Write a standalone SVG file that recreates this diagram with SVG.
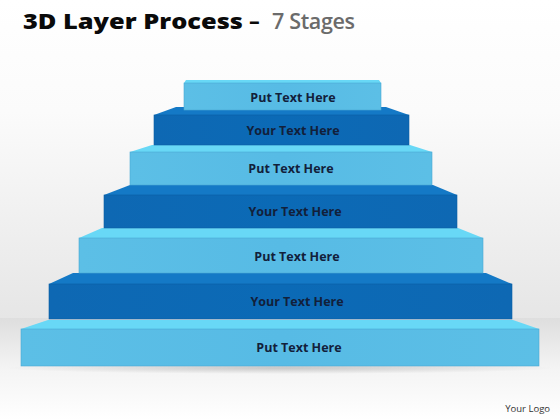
<svg xmlns="http://www.w3.org/2000/svg" width="560" height="420" viewBox="0 0 560 420">
<defs>
<linearGradient id="wall" x1="0" y1="0" x2="0" y2="1">
<stop offset="0" stop-color="#ffffff"/>
<stop offset="0.35" stop-color="#fbfbfb"/>
<stop offset="1" stop-color="#e6e6e6"/>
</linearGradient>
<linearGradient id="floor" x1="0" y1="0" x2="0" y2="1">
<stop offset="0" stop-color="#dedede"/>
<stop offset="0.5" stop-color="#f4f4f4"/>
<stop offset="1" stop-color="#ffffff"/>
</linearGradient>
<linearGradient id="lightFront" x1="0" y1="0" x2="1" y2="0">
<stop offset="0" stop-color="#5cbfe6"/>
<stop offset="0.5" stop-color="#57bbe5"/>
<stop offset="1" stop-color="#5cbfe6"/>
</linearGradient>
<linearGradient id="darkFront" x1="0" y1="0" x2="1" y2="0">
<stop offset="0" stop-color="#0e68b3"/>
<stop offset="0.5" stop-color="#0b6ab6"/>
<stop offset="1" stop-color="#0e68b3"/>
</linearGradient>
<radialGradient id="shadow" cx="0.5" cy="0.5" r="0.5">
<stop offset="0" stop-color="#000" stop-opacity="0.18"/>
<stop offset="1" stop-color="#000" stop-opacity="0"/>
</radialGradient>
</defs>
<style>
.lf{fill:url(#lightFront);stroke:#4aa8d3;stroke-width:0.6}
.lt{fill:#68d8f6}
.df{fill:url(#darkFront);stroke:#0a5ea3;stroke-width:0.6}
.dt{fill:#1479c6}
.lbl{font-family:"Open Sans","Liberation Sans",sans-serif;font-weight:700;font-size:12.5px;fill:#12203a;text-anchor:middle}
.ttl{font-family:"Open Sans","Liberation Sans",sans-serif;font-size:21.5px}
</style>
<rect x="0" y="0" width="560" height="318" fill="url(#wall)"/>
<rect x="0" y="318" width="560" height="102" fill="url(#floor)"/>
<ellipse cx="280" cy="368" rx="275" ry="6" fill="url(#shadow)"/>
<g id="title">
<text class="ttl" x="19.5" y="29" font-weight="800" fill="#0a0a0a" transform="scale(1.18,1)">3D Layer Process</text>
<text class="ttl" x="249" y="29" font-weight="700" fill="#0a0a0a">–</text>
<text class="ttl" x="272" y="29" font-weight="600" fill="#6b6b6b" textLength="83" lengthAdjust="spacing">7 Stages</text>
</g>
<g id="step7">
<polygon class="lt" points="21,329 539,329 513,320 48,320"/>
<rect class="lf" x="21" y="329" width="518" height="37"/>
<text class="lbl" x="299" y="352">Put Text Here</text>
</g>
<g id="step6">
<polygon class="dt" points="49,284 512,284 486,273 73,273"/>
<rect class="df" x="49" y="284" width="463" height="35"/>
<text class="lbl" x="297" y="306">Your Text Here</text>
</g>
<g id="step5">
<polygon class="lt" points="79,238 483,238 458,228 102,228"/>
<rect class="lf" x="79" y="238" width="404" height="35"/>
<text class="lbl" x="297" y="261">Put Text Here</text>
</g>
<g id="step4">
<polygon class="dt" points="104,195 457,195 433,185 130,185"/>
<rect class="df" x="104" y="195" width="353" height="33"/>
<text class="lbl" x="295" y="216">Your Text Here</text>
</g>
<g id="step3">
<polygon class="lt" points="130,152 432,152 410,145 152,145"/>
<rect class="lf" x="130" y="152" width="302" height="33"/>
<text class="lbl" x="291" y="173">Put Text Here</text>
</g>
<g id="step2">
<polygon class="dt" points="154,115 409,115 386,107 176,107"/>
<rect class="df" x="154" y="115" width="255" height="30"/>
<text class="lbl" x="293" y="135">Your Text Here</text>
</g>
<g id="step1">
<polygon class="lt" points="184,83 381,83 379,80 186,80"/>
<rect class="lf" x="184" y="83" width="197" height="27"/>
<text class="lbl" x="293" y="102">Put Text Here</text>
</g>
<g id="connectors"/>
<text x="550" y="412" text-anchor="end" font-family="'Open Sans','Liberation Sans',sans-serif" font-size="9.5" fill="#333">Your Logo</text>
</svg>
